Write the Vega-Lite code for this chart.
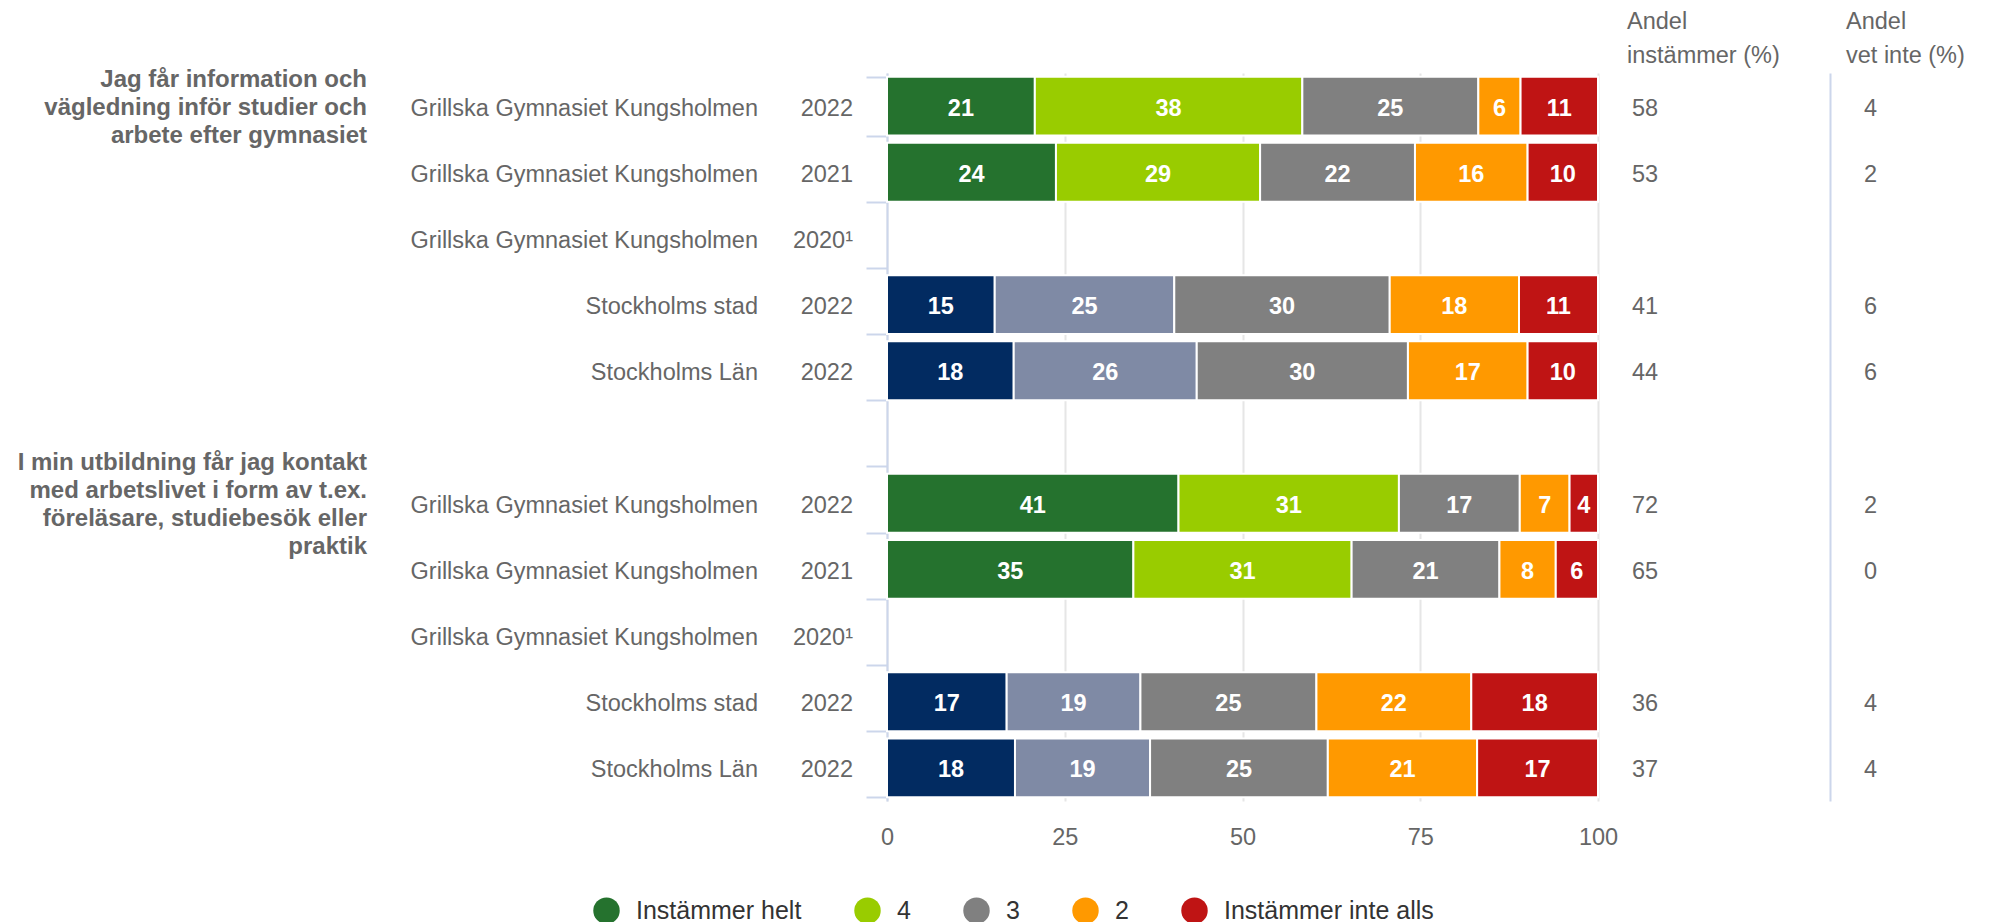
{
  "$schema": "https://vega.github.io/schema/vega-lite/v6.json",
  "background": "white",
  "padding": {"left": 0, "top": 9, "right": 0, "bottom": 0},
  "bounds": "flush",
  "spacing": 34,
  "config": {
    "view": {"stroke": null},
    "font": "Liberation Sans",
    "text": {"font": "Liberation Sans"},
    "title": {"font": "Liberation Sans", "fontSize": 23.5, "fontWeight": "normal", "color": "#666666", "anchor": "start", "lineHeight": 34, "offset": 6, "frame": "group"}
  },
  "datasets": {
    "rader": [
      {"rad": 1, "fraga": ["Jag får information och", "vägledning inför studier och", "arbete efter gymnasiet"], "enhet": "Grillska Gymnasiet Kungsholmen", "ar": "2022", "instammer": 58, "vetinte": 4},
      {"rad": 2, "enhet": "Grillska Gymnasiet Kungsholmen", "ar": "2021", "instammer": 53, "vetinte": 2},
      {"rad": 3, "enhet": "Grillska Gymnasiet Kungsholmen", "ar": "2020¹"},
      {"rad": 4, "enhet": "Stockholms stad", "ar": "2022", "instammer": 41, "vetinte": 6},
      {"rad": 5, "enhet": "Stockholms Län", "ar": "2022", "instammer": 44, "vetinte": 6},
      {"rad": 7, "fraga": ["I min utbildning får jag kontakt", "med arbetslivet i form av t.ex.", "föreläsare, studiebesök eller", "praktik"], "enhet": "Grillska Gymnasiet Kungsholmen", "ar": "2022", "instammer": 72, "vetinte": 2},
      {"rad": 8, "enhet": "Grillska Gymnasiet Kungsholmen", "ar": "2021", "instammer": 65, "vetinte": 0},
      {"rad": 9, "enhet": "Grillska Gymnasiet Kungsholmen", "ar": "2020¹"},
      {"rad": 10, "enhet": "Stockholms stad", "ar": "2022", "instammer": 36, "vetinte": 4},
      {"rad": 11, "enhet": "Stockholms Län", "ar": "2022", "instammer": 37, "vetinte": 4}
    ],
    "svar": [
      {"rad": 1, "enhet": "Grillska Gymnasiet Kungsholmen", "kategori": "Instämmer helt", "svar": 5, "andel": 21},
      {"rad": 1, "enhet": "Grillska Gymnasiet Kungsholmen", "kategori": "4", "svar": 4, "andel": 38},
      {"rad": 1, "enhet": "Grillska Gymnasiet Kungsholmen", "kategori": "3", "svar": 3, "andel": 25},
      {"rad": 1, "enhet": "Grillska Gymnasiet Kungsholmen", "kategori": "2", "svar": 2, "andel": 6},
      {"rad": 1, "enhet": "Grillska Gymnasiet Kungsholmen", "kategori": "Instämmer inte alls", "svar": 1, "andel": 11},
      {"rad": 2, "enhet": "Grillska Gymnasiet Kungsholmen", "kategori": "Instämmer helt", "svar": 5, "andel": 24},
      {"rad": 2, "enhet": "Grillska Gymnasiet Kungsholmen", "kategori": "4", "svar": 4, "andel": 29},
      {"rad": 2, "enhet": "Grillska Gymnasiet Kungsholmen", "kategori": "3", "svar": 3, "andel": 22},
      {"rad": 2, "enhet": "Grillska Gymnasiet Kungsholmen", "kategori": "2", "svar": 2, "andel": 16},
      {"rad": 2, "enhet": "Grillska Gymnasiet Kungsholmen", "kategori": "Instämmer inte alls", "svar": 1, "andel": 10},
      {"rad": 4, "enhet": "Stockholms stad", "kategori": "Instämmer helt", "svar": 5, "andel": 15},
      {"rad": 4, "enhet": "Stockholms stad", "kategori": "4", "svar": 4, "andel": 25},
      {"rad": 4, "enhet": "Stockholms stad", "kategori": "3", "svar": 3, "andel": 30},
      {"rad": 4, "enhet": "Stockholms stad", "kategori": "2", "svar": 2, "andel": 18},
      {"rad": 4, "enhet": "Stockholms stad", "kategori": "Instämmer inte alls", "svar": 1, "andel": 11},
      {"rad": 5, "enhet": "Stockholms Län", "kategori": "Instämmer helt", "svar": 5, "andel": 18},
      {"rad": 5, "enhet": "Stockholms Län", "kategori": "4", "svar": 4, "andel": 26},
      {"rad": 5, "enhet": "Stockholms Län", "kategori": "3", "svar": 3, "andel": 30},
      {"rad": 5, "enhet": "Stockholms Län", "kategori": "2", "svar": 2, "andel": 17},
      {"rad": 5, "enhet": "Stockholms Län", "kategori": "Instämmer inte alls", "svar": 1, "andel": 10},
      {"rad": 7, "enhet": "Grillska Gymnasiet Kungsholmen", "kategori": "Instämmer helt", "svar": 5, "andel": 41},
      {"rad": 7, "enhet": "Grillska Gymnasiet Kungsholmen", "kategori": "4", "svar": 4, "andel": 31},
      {"rad": 7, "enhet": "Grillska Gymnasiet Kungsholmen", "kategori": "3", "svar": 3, "andel": 17},
      {"rad": 7, "enhet": "Grillska Gymnasiet Kungsholmen", "kategori": "2", "svar": 2, "andel": 7},
      {"rad": 7, "enhet": "Grillska Gymnasiet Kungsholmen", "kategori": "Instämmer inte alls", "svar": 1, "andel": 4},
      {"rad": 8, "enhet": "Grillska Gymnasiet Kungsholmen", "kategori": "Instämmer helt", "svar": 5, "andel": 35},
      {"rad": 8, "enhet": "Grillska Gymnasiet Kungsholmen", "kategori": "4", "svar": 4, "andel": 31},
      {"rad": 8, "enhet": "Grillska Gymnasiet Kungsholmen", "kategori": "3", "svar": 3, "andel": 21},
      {"rad": 8, "enhet": "Grillska Gymnasiet Kungsholmen", "kategori": "2", "svar": 2, "andel": 8},
      {"rad": 8, "enhet": "Grillska Gymnasiet Kungsholmen", "kategori": "Instämmer inte alls", "svar": 1, "andel": 6},
      {"rad": 10, "enhet": "Stockholms stad", "kategori": "Instämmer helt", "svar": 5, "andel": 17},
      {"rad": 10, "enhet": "Stockholms stad", "kategori": "4", "svar": 4, "andel": 19},
      {"rad": 10, "enhet": "Stockholms stad", "kategori": "3", "svar": 3, "andel": 25},
      {"rad": 10, "enhet": "Stockholms stad", "kategori": "2", "svar": 2, "andel": 22},
      {"rad": 10, "enhet": "Stockholms stad", "kategori": "Instämmer inte alls", "svar": 1, "andel": 18},
      {"rad": 11, "enhet": "Stockholms Län", "kategori": "Instämmer helt", "svar": 5, "andel": 18},
      {"rad": 11, "enhet": "Stockholms Län", "kategori": "4", "svar": 4, "andel": 19},
      {"rad": 11, "enhet": "Stockholms Län", "kategori": "3", "svar": 3, "andel": 25},
      {"rad": 11, "enhet": "Stockholms Län", "kategori": "2", "svar": 2, "andel": 21},
      {"rad": 11, "enhet": "Stockholms Län", "kategori": "Instämmer inte alls", "svar": 1, "andel": 17}
    ]
  },
  "hconcat": [
    {
      "width": 367, "height": 728,
      "data": {"name": "rader"},
      "transform": [{"filter": "isValid(datum.fraga)"}],
      "mark": {"type": "text", "align": "right", "baseline": "middle", "fontWeight": "bold", "fontSize": 24, "color": "#666666", "lineHeight": 28, "dy": {"expr": "2 - (length(datum.fraga) - 1) * 14"}},
      "encoding": {
        "y": {"field": "rad", "type": "ordinal", "scale": {"type": "band", "domain": [1,2,3,4,5,6,7,8,9,10,11], "paddingInner": 0.11, "paddingOuter": 0.055}, "axis": null},
        "x": {"value": "width"},
        "text": {"field": "fraga", "type": "nominal"}
      }
    },
    {
      "width": 357, "height": 728,
      "data": {"name": "rader"},
      "mark": {"type": "text", "align": "right", "baseline": "middle", "fontSize": 23.5, "color": "#666666", "dy": 2.5},
      "encoding": {
        "y": {"field": "rad", "type": "ordinal", "scale": {"type": "band", "domain": [1,2,3,4,5,6,7,8,9,10,11], "paddingInner": 0.11, "paddingOuter": 0.055}, "axis": null},
        "x": {"value": "width"},
        "text": {"field": "enhet", "type": "nominal"}
      }
    },
    {
      "width": 61, "height": 728,
      "data": {"name": "rader"},
      "mark": {"type": "text", "align": "right", "baseline": "middle", "fontSize": 23.5, "color": "#666666", "dy": 2.5},
      "encoding": {
        "y": {"field": "rad", "type": "ordinal", "scale": {"type": "band", "domain": [1,2,3,4,5,6,7,8,9,10,11], "paddingInner": 0.11, "paddingOuter": 0.055}, "axis": null},
        "x": {"value": "width"},
        "text": {"field": "ar", "type": "nominal"}
      }
    },
    {
      "width": 711, "height": 728,
      "data": {"name": "svar"},
      "transform": [
        {"stack": "andel", "groupby": ["rad"], "sort": [{"field": "svar", "order": "descending"}], "offset": "normalize", "as": ["x0", "x1"]},
        {"calculate": "(datum.x0 + datum.x1) / 2", "as": "mitt"}
      ],
      "encoding": {
        "y": {"field": "rad", "type": "ordinal", "scale": {"type": "band", "domain": [1,2,3,4,5,6,7,8,9,10,11], "paddingInner": 0.11, "paddingOuter": 0.055},
          "axis": {"title": null, "labels": false, "grid": false, "domain": true, "domainColor": "#ccd6eb", "domainWidth": 2, "ticks": true, "tickColor": "#ccd6eb", "tickWidth": 2, "tickSize": 21, "tickBand": "extent"}}
      },
      "layer": [
        {
          "mark": {"type": "bar", "stroke": "white", "strokeWidth": 2},
          "encoding": {
            "x": {"field": "x0", "type": "quantitative", "scale": {"domain": [0, 1]},
              "axis": {"title": null, "values": [0, 0.25, 0.5, 0.75, 1], "labelExpr": "datum.value * 100", "labelFlush": false, "grid": true, "gridColor": "#e6e6e6", "gridWidth": 2, "domain": false, "ticks": false, "tickSize": 0, "labelPadding": 24, "labelFontSize": 23.5, "labelColor": "#666666", "labelFont": "Liberation Sans"}},
            "x2": {"field": "x1"},
            "color": {
              "condition": [
                {"test": "datum.enhet !== 'Grillska Gymnasiet Kungsholmen' && datum.svar === 5", "value": "#022b61"},
                {"test": "datum.enhet !== 'Grillska Gymnasiet Kungsholmen' && datum.svar === 4", "value": "#7f8aa5"}
              ],
              "field": "kategori", "type": "nominal",
              "scale": {"domain": ["Instämmer helt", "4", "3", "2", "Instämmer inte alls"], "range": ["#25722e", "#99cc00", "#808080", "#ff9900", "#bf1414"]},
              "legend": {"orient": "none", "legendX": 593, "legendY": 824, "direction": "horizontal", "title": null, "symbolType": "circle", "symbolSize": 700, "symbolStrokeWidth": 0, "labelFontSize": 25, "labelColor": "#333333", "labelFont": "Liberation Sans", "labelOffset": 16, "labelLimit": 500, "columnPadding": 52, "padding": 0}
            }
          }
        },
        {
          "mark": {"type": "text", "color": "white", "fontWeight": "bold", "fontSize": 23.5, "baseline": "middle", "align": "center", "dy": 2.5},
          "encoding": {
            "x": {"field": "mitt", "type": "quantitative"},
            "text": {"field": "andel", "type": "quantitative"}
          }
        }
      ]
    },
    {
      "width": 198, "height": 728,
      "title": {"text": ["Andel", "instämmer (%)"], "dx": -5},
      "data": {"name": "rader"},
      "transform": [{"filter": "isValid(datum.instammer)"}],
      "mark": {"type": "text", "align": "left", "baseline": "middle", "fontSize": 23.5, "color": "#666666", "dy": 2.5},
      "encoding": {
        "y": {"field": "rad", "type": "ordinal", "scale": {"type": "band", "domain": [1,2,3,4,5,6,7,8,9,10,11], "paddingInner": 0.11, "paddingOuter": 0.055}, "axis": null},
        "x": {"value": 0},
        "text": {"field": "instammer", "type": "quantitative"}
      }
    },
    {
      "width": 128, "height": 728,
      "title": {"text": ["Andel", "vet inte (%)"], "dx": -18},
      "data": {"name": "rader"},
      "transform": [{"filter": "isValid(datum.vetinte)"}],
      "mark": {"type": "text", "align": "left", "baseline": "middle", "fontSize": 23.5, "color": "#666666", "dy": 2.5},
      "encoding": {
        "y": {"field": "rad", "type": "ordinal", "scale": {"type": "band", "domain": [1,2,3,4,5,6,7,8,9,10,11], "paddingInner": 0.11, "paddingOuter": 0.055},
          "axis": {"orient": "left", "offset": 34, "title": null, "labels": false, "ticks": false, "grid": false, "domain": true, "domainColor": "#ccd6eb", "domainWidth": 2}},
        "x": {"value": 0},
        "text": {"field": "vetinte", "type": "quantitative"}
      }
    }
  ]
}
